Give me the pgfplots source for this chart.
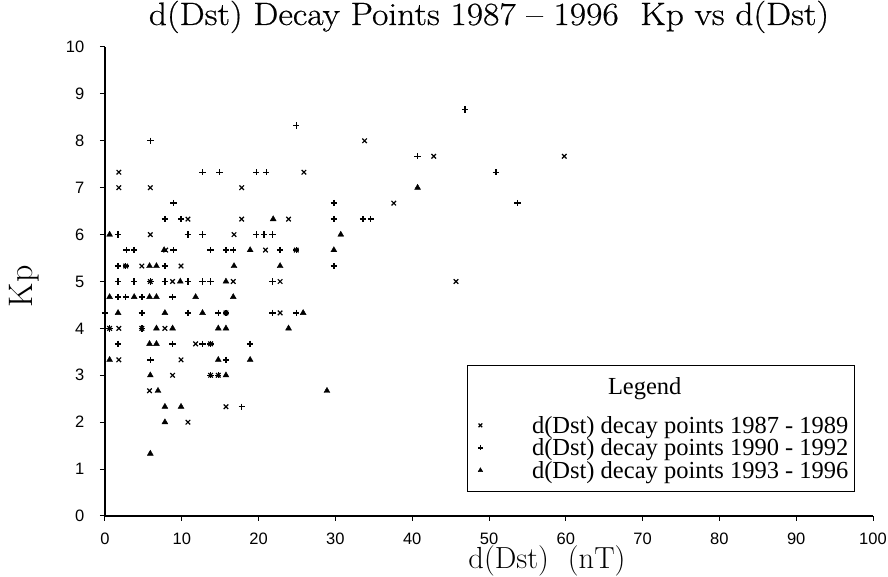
\documentclass[border=0pt]{standalone}
\usepackage{pgfplots}
\pgfplotsset{compat=1.18}
\usepackage{fontspec}
\newfontfamily\sansf{Liberation Sans}
\newfontfamily\seriff{Liberation Serif}
\newfontfamily\titlef[FakeStretch=1.1,FakeBold=0.6,Ligatures=TeX]{Latin Modern Roman}
\begin{document}
\begin{tikzpicture}[x=1pt,y=1pt]
\path[use as bounding box] (0,0) rectangle (888,577);
\begin{axis}[
  at={(105pt,61pt)}, anchor=south west,
  scale only axis, width=768pt, height=469pt,
  xmin=0,xmax=100,ymin=0,ymax=10,
  axis x line=bottom, axis y line=left,
  axis line style={-, line width=1.2pt},
  xtick={0,10,...,100}, ytick={0,1,...,10},
  tick align=outside, major tick length=5pt,
  tick style={line width=1pt, black},
  ticklabel style={font=\sansf\fontsize{16.5}{18}\selectfont, inner sep=1pt},
  xticklabel style={yshift=-10.5pt},
  yticklabel style={xshift=-14.5pt},
  /pgf/number format/assume math mode=true,
  title={d(Dst) Decay Points 1987 -- 1996\ \ Kp vs d(Dst)},
  title style={font=\titlef\fontsize{32.3}{34}\selectfont, at={(0.5,1)}, anchor=base, yshift=16pt},
  xlabel={d(Dst)\hspace{19pt}(nT)},
  xlabel style={font=\fontsize{30.5}{32}\selectfont, inner sep=0pt, at={(axis description cs:0.5755,-0.1130)}, anchor=base},
  ylabel={Kp},
  ylabel style={font=\fontsize{34}{36}\selectfont, at={(axis description cs:-0.1055,0.49)}, anchor=center},
  clip=false,
  legend style={at={(0.9766,0.322)}, anchor=north east, draw=black, line width=1.2pt,
    font=\seriff\fontsize{24.5}{24.5}\selectfont, inner xsep=4pt, inner ysep=10pt, row sep=0pt,
    /tikz/every odd column/.append style={column sep=47pt}},
  legend cell align=left,
  legend image post style={mark size=2.6pt},
]
\addlegendimage{empty legend}
\addlegendentry{\hspace*{76pt}\raisebox{16pt}{Legend}}

\addplot[only marks, mark=x, mark size=3.2pt, mark options={line width=1.2pt}] coordinates {
(1.8,7.33) (1.8,7) (5.9,7) (5.9,6) (10.8,6.33) (7.9,5.67) (2.7,5.33) (4.8,5.33) (9.9,5.33)
(5.9,5) (8.8,5) (0.6,4) (1.8,4) (4.8,4) (7.8,4) (11.8,3.67) (1.8,3.33) (9.9,3.33) (8.8,3)
(5.8,2.67) (10.8,2) (17.8,7) (25.9,7.33) (17.8,6.33) (23.9,6.33) (16.8,6) (20.9,5.67)
(24.9,5.67) (16.7,5) (22.8,5) (15.75,4.33) (22.8,4.33) (13.75,3.67) (13.75,3) (14.75,3)
(15.75,2.33) (33.8,8) (42.8,7.67) (37.6,6.67) (45.7,5) (59.8,7.67)
};
\addlegendentry{d(Dst) decay points 1987 - 1989}

\addplot[only marks, mark=+, mark size=3.2pt, mark options={line width=1.4pt}] coordinates {
(5.9,8) (12.7,7.33) (14.9,7.33) (19.7,7.33) (21.0,7.33) (24.9,8.33) (8.9,6.67) (7.8,6.33)
(9.9,6.33) (1.7,6) (10.8,6) (12.7,6) (19.7,6) (20.7,6) (21.8,6) (2.8,5.67) (3.8,5.67)
(8.9,5.67) (13.75,5.67) (15.75,5.67) (16.7,5.67) (22.8,5.67) (24.9,5.67) (1.7,5.33)
(2.7,5.33) (7.8,5.33) (1.7,5) (3.8,5) (5.9,5) (7.8,5) (10.8,5) (12.7,5) (13.75,5) (21.8,5)
(1.7,4.67) (2.7,4.67) (4.8,4.67) (8.8,4.67) (0,4.33) (4.8,4.33) (10.8,4.33) (14.75,4.33)
(15.75,4.33) (21.8,4.33) (24.9,4.33) (0.6,4) (4.8,4) (1.7,3.67) (8.8,3.67) (12.7,3.67)
(13.75,3.67) (18.9,3.67) (5.9,3.33) (15.75,3.33) (13.75,3) (14.75,3) (17.8,2.33)
(29.8,6.67) (29.8,6.33) (33.6,6.33) (34.6,6.33) (29.8,5.33) (40.7,7.67) (46.9,8.67)
(50.9,7.33) (53.7,6.67)
};
\addlegendentry{d(Dst) decay points 1990 - 1992}

\addplot[only marks, mark=triangle*, mark size=3.4pt, mark options={line width=0.4pt}] coordinates {
(0.6,6) (7.7,5.67) (5.8,5.33) (6.7,5.33) (9.8,5) (0.6,4.67) (3.8,4.67) (5.8,4.67) (6.7,4.67)
(11.8,4.67) (1.7,4.33) (7.8,4.33) (12.7,4.33) (6.7,4) (8.8,4) (5.8,3.67) (6.7,3.67)
(0.6,3.33) (5.9,3) (6.9,2.67) (7.8,2.33) (9.9,2.33) (7.8,2) (5.9,1.33) (21.9,6.33)
(18.9,5.67) (16.8,5.33) (22.8,5.33) (15.75,5) (16.7,4.67) (25.8,4.33) (14.75,4) (15.75,4)
(23.9,4) (14.75,3.33) (18.9,3.33) (15.75,3) (28.9,2.67) (40.7,7) (30.7,6) (29.8,5.67)
};
\addlegendentry{d(Dst) decay points 1993 - 1996}
\end{axis}
\end{tikzpicture}
\end{document}
